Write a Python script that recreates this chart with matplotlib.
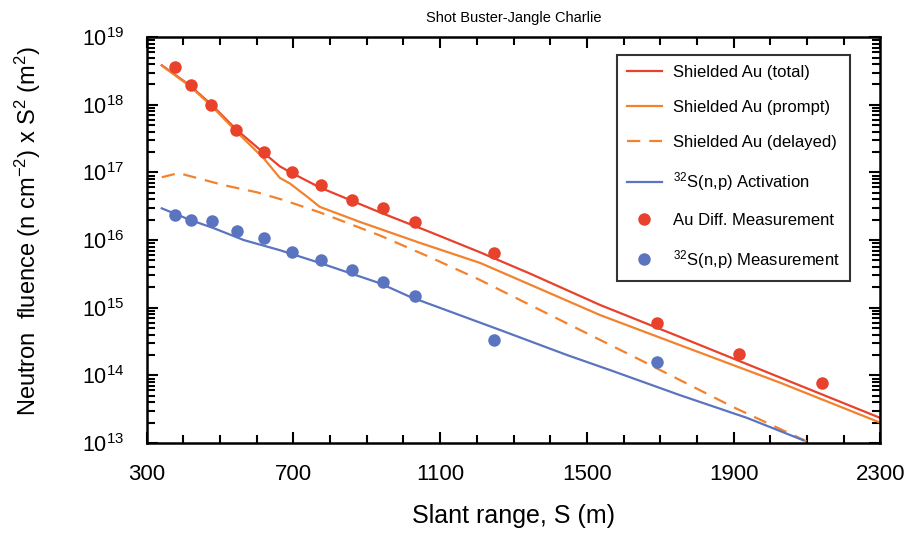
import matplotlib
matplotlib.use("Agg")
import matplotlib.pyplot as plt
from matplotlib.ticker import FixedLocator, MultipleLocator, LogLocator

plt.rcParams['font.family'] = ['Liberation Sans', 'DejaVu Sans']
plt.rcParams['mathtext.fontset'] = 'custom'
plt.rcParams['mathtext.rm'] = 'Liberation Sans'
plt.rcParams['mathtext.it'] = 'Liberation Sans:italic'
plt.rcParams['mathtext.bf'] = 'Liberation Sans:bold'

# calculated curves (slant range m, fluence x S^2)
total_s = [341, 417, 477, 545, 619, 663, 696, 772, 936, 1072, 1209, 1345, 1536, 1754, 2027, 2300]
total_y = [3.85e18, 1.95e18, 1.0e18, 4.27e17, 1.95e17, 1.23e17, 9.8e16, 6.0e16, 2.57e16,
           1.32e16, 6.6e15, 3.2e15, 1.1e15, 3.7e14, 9.3e13, 2.35e13]

prompt_s = [341, 417, 477, 545, 619, 663, 690, 737, 772, 881, 1045, 1209, 1345, 1536, 1754,
            2027, 2300]
prompt_y = [3.8e18, 1.9e18, 9.6e17, 4.0e17, 1.62e17, 8.3e16, 6.9e16, 4.4e16, 3.1e16, 1.86e16,
            9.1e15, 4.6e15, 2.2e15, 7.8e14, 2.8e14, 7.8e13, 2.0e13]

delayed_s = [341, 387, 510, 600, 674, 772, 936, 1072, 1209, 1345, 1427, 1645, 1899, 2109]
delayed_y = [8.5e16, 9.8e16, 6.5e16, 5.1e16, 3.9e16, 2.57e16, 1.17e16, 5.6e15, 2.57e15,
             1.1e15, 6.6e14, 1.7e14, 3.4e13, 1.0e13]

act_s = [341, 417, 483, 565, 663, 772, 936, 1018, 1263, 1446, 1563, 1754, 1937, 2090]
act_y = [2.95e16, 2.0e16, 1.5e16, 1.0e16, 7.1e15, 4.6e15, 2.3e15, 1.45e15, 4.7e14, 2.0e14,
         1.2e14, 5.1e13, 2.35e13, 1.1e13]

# measurements
au_s = [376, 420, 475, 543, 619, 696, 775, 859, 944, 1031, 1247, 1692, 1915, 2142]
au_y = [3.6e18, 1.95e18, 1.0e18, 4.3e17, 2.0e17, 1.0e17, 6.5e16, 3.9e16, 2.95e16, 1.85e16,
        6.5e15, 5.9e14, 2.1e14, 7.7e13]

s32_s = [376, 420, 477, 546, 619, 696, 775, 859, 944, 1031, 1247, 1692]
s32_y = [2.35e16, 1.98e16, 1.9e16, 1.35e16, 1.07e16, 6.6e15, 5.0e15, 3.6e15, 2.4e15, 1.5e15,
         3.3e14, 1.6e14]

x_ticks = [300, 700, 1100, 1500, 1900, 2300]

red = '#E8412C'
orange = '#F2822E'
blue = '#5B74C0'

fig = plt.figure(figsize=(9.17, 5.39), dpi=100)
ax = fig.add_axes([0.160, 0.178, 0.800, 0.753])

ax.plot(total_s, total_y, color=red, lw=1.6, label='Shielded Au (total)')
ax.plot(prompt_s, prompt_y, color=orange, lw=1.6, label='Shielded Au (prompt)')
ax.plot(delayed_s, delayed_y, color=orange, lw=1.6, dashes=(6, 4), label='Shielded Au (delayed)')
ax.plot(act_s, act_y, color=blue, lw=1.6, label='$^{32}$S(n,p) Activation')
ax.plot(au_s, au_y, 'o', color=red, ms=9, mec='none', label='Au Diff. Measurement')
ax.plot(s32_s, s32_y, 'o', color=blue, ms=9, mec='none', label='$^{32}$S(n,p) Measurement')

ax.set_yscale('log')
ax.set_xlim(300, 2300)
ax.set_ylim(1e13, 1e19)
ax.xaxis.set_major_locator(FixedLocator(x_ticks))
ax.xaxis.set_minor_locator(MultipleLocator(100))
ax.yaxis.set_major_locator(LogLocator(base=10, numticks=10))
ax.yaxis.set_minor_locator(LogLocator(base=10, subs=range(2, 10), numticks=20))

ax.tick_params(which='both', direction='in', top=True, right=True, width=1.5)
ax.tick_params(which='major', length=8)
ax.tick_params(which='minor', length=5.5)
ax.tick_params(axis='x', which='major', labelsize=16, pad=15)
ax.tick_params(axis='y', which='major', labelsize=15.5, pad=16)
for sp in ax.spines.values():
    sp.set_linewidth(1.8)

ax.set_title('Shot Buster-Jangle Charlie', fontsize=10.5, pad=11)
ax.set_xlabel('Slant range, S (m)', fontsize=18, labelpad=14)
fig.text(28 / 917, 1 - 231 / 539, 'Neutron  fluence (n cm$^{-2}$) x S$^2$ (m$^2$)',
         rotation=90, ha='center', va='center', fontsize=17)

leg = ax.legend(loc='upper right', bbox_to_anchor=(0.959, 0.956), fontsize=12, frameon=True,
                fancybox=False, edgecolor='black', labelspacing=1.2, handlelength=2.1,
                handletextpad=0.7, borderpad=0.6, borderaxespad=0)
leg.get_frame().set_linewidth(1.5)

fig.savefig('out.png', dpi=100)
